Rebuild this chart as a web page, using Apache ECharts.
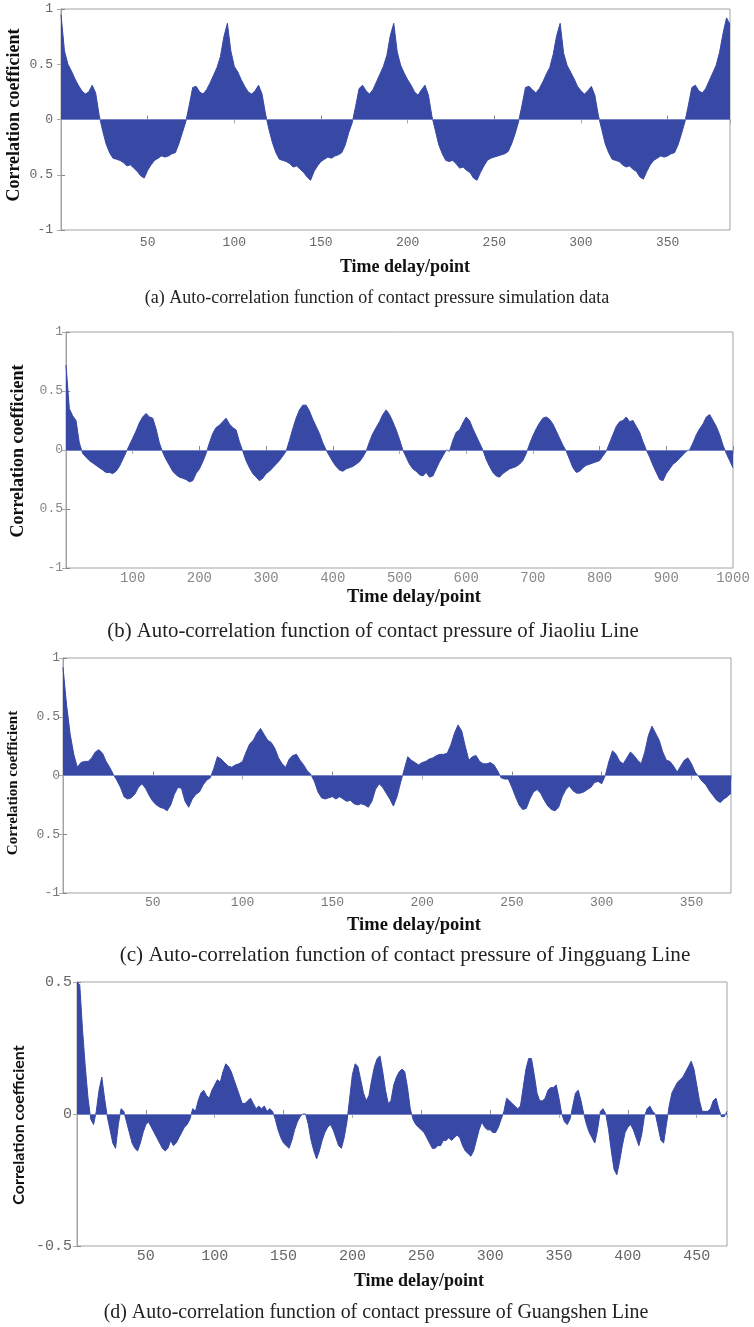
<!DOCTYPE html>
<html>
<head>
<meta charset="utf-8">
<script src="https://cdn.jsdelivr.net/npm/echarts@6/dist/echarts.min.js"></script>
<style>
html,body{margin:0;padding:0;background:#fff;}
#chart{width:754px;height:1327px;}
</style>
</head>
<body>
<div id="chart"></div>
<script>
// ---------------- DATA ----------------
// (a) simulation data, lag step 2, lags 0..386
const lagStepA = 2;
const valuesA = [
 0.95,0.62,0.50,0.44,0.37,0.31,0.26,0.23,0.25,0.31,0.24,0.04,
 -0.10,-0.22,-0.30,-0.35,-0.36,-0.37,-0.39,-0.42,-0.41,-0.44,-0.47,-0.51,
 -0.53,-0.46,-0.41,-0.37,-0.35,-0.33,-0.34,-0.33,-0.31,-0.30,-0.22,-0.12,
 -0.02,0.13,0.29,0.30,0.25,0.23,0.27,0.33,0.40,0.47,0.57,0.75,
 0.87,0.62,0.48,0.43,0.36,0.30,0.25,0.23,0.26,0.31,0.23,0.05,
 -0.09,-0.21,-0.30,-0.36,-0.37,-0.38,-0.40,-0.43,-0.42,-0.45,-0.48,-0.52,
 -0.55,-0.47,-0.42,-0.38,-0.36,-0.34,-0.35,-0.33,-0.32,-0.30,-0.23,-0.12,
 -0.03,0.12,0.28,0.31,0.26,0.23,0.27,0.34,0.41,0.48,0.58,0.76,
 0.87,0.61,0.49,0.42,0.36,0.31,0.25,0.22,0.27,0.31,0.22,0.03,
 -0.10,-0.23,-0.31,-0.37,-0.38,-0.37,-0.40,-0.44,-0.43,-0.46,-0.48,-0.53,
 -0.55,-0.48,-0.42,-0.37,-0.35,-0.34,-0.33,-0.32,-0.31,-0.29,-0.22,-0.13,
 -0.02,0.13,0.29,0.30,0.27,0.24,0.28,0.34,0.41,0.47,0.59,0.76,
 0.87,0.60,0.49,0.43,0.37,0.30,0.26,0.23,0.26,0.30,0.22,0.04,
 -0.09,-0.22,-0.30,-0.36,-0.37,-0.38,-0.41,-0.43,-0.42,-0.45,-0.47,-0.52,
 -0.54,-0.47,-0.41,-0.37,-0.35,-0.33,-0.34,-0.33,-0.31,-0.30,-0.23,-0.13,
 -0.02,0.13,0.29,0.31,0.26,0.24,0.28,0.35,0.42,0.49,0.61,0.78,
 0.92,0.86
];

// (b) Jiaoliu Line, lag step 5, lags 0..1000
const lagStepB = 5;
const valuesB = [
 0.72,0.35,0.29,0.25,0.06,-0.03,-0.06,-0.09,-0.11,-0.13,
 -0.15,-0.17,-0.19,-0.19,-0.20,-0.18,-0.14,-0.08,-0.02,0.04,
 0.10,0.16,0.23,0.28,0.31,0.28,0.27,0.18,0.06,-0.02,
 -0.08,-0.13,-0.18,-0.21,-0.23,-0.24,-0.25,-0.27,-0.26,-0.20,
 -0.16,-0.10,-0.03,0.06,0.14,0.19,0.21,0.24,0.27,0.22,
 0.19,0.17,0.07,-0.01,-0.09,-0.15,-0.20,-0.23,-0.26,-0.24,
 -0.20,-0.18,-0.15,-0.12,-0.09,-0.05,-0.01,0.08,0.18,0.27,
 0.34,0.38,0.38,0.33,0.26,0.20,0.14,0.06,0.00,-0.05,
 -0.10,-0.14,-0.17,-0.18,-0.16,-0.15,-0.14,-0.12,-0.10,-0.06,
 -0.01,0.07,0.14,0.19,0.24,0.30,0.34,0.30,0.24,0.17,
 0.09,0.00,-0.06,-0.12,-0.16,-0.18,-0.21,-0.22,-0.19,-0.23,
 -0.22,-0.16,-0.10,-0.05,0.00,-0.01,0.08,0.15,0.17,0.23,
 0.28,0.25,0.18,0.12,0.06,0.00,-0.08,-0.14,-0.19,-0.22,
 -0.23,-0.20,-0.18,-0.16,-0.15,-0.14,-0.12,-0.09,-0.03,0.05,
 0.12,0.18,0.23,0.27,0.28,0.26,0.22,0.16,0.10,0.04,
 -0.01,-0.08,-0.15,-0.19,-0.18,-0.15,-0.13,-0.12,-0.11,-0.10,
 -0.09,-0.05,-0.01,0.06,0.13,0.20,0.24,0.25,0.28,0.24,
 0.25,0.20,0.15,0.07,0.00,-0.06,-0.13,-0.19,-0.25,-0.26,
 -0.20,-0.16,-0.12,-0.10,-0.07,-0.04,-0.01,0.00,0.06,0.13,
 0.18,0.22,0.28,0.30,0.25,0.20,0.13,0.04,-0.03,-0.09,
 -0.15
];

// (c) Jingguang Line, lag step 2, lags 0..372
const lagStepC = 2;
const valuesC = [
 0.92,0.60,0.35,0.18,0.07,0.11,0.12,0.12,0.15,0.20,
 0.22,0.19,0.12,0.07,0.01,-0.04,-0.10,-0.18,-0.20,-0.19,
 -0.16,-0.10,-0.07,-0.11,-0.17,-0.22,-0.25,-0.27,-0.28,-0.30,
 -0.25,-0.16,-0.10,-0.11,-0.22,-0.27,-0.20,-0.16,-0.14,-0.08,
 -0.04,-0.02,0.06,0.16,0.14,0.11,0.08,0.07,0.09,0.10,
 0.12,0.20,0.27,0.30,0.36,0.40,0.35,0.30,0.28,0.23,
 0.15,0.10,0.07,0.14,0.17,0.18,0.13,0.09,0.04,0.01,
 -0.05,-0.14,-0.19,-0.20,-0.19,-0.18,-0.20,-0.18,-0.20,-0.22,
 -0.21,-0.24,-0.25,-0.24,-0.25,-0.27,-0.22,-0.12,-0.07,-0.10,
 -0.15,-0.20,-0.26,-0.18,-0.06,0.05,0.16,0.13,0.11,0.09,
 0.11,0.12,0.14,0.15,0.17,0.18,0.18,0.19,0.26,0.36,
 0.43,0.38,0.25,0.13,0.16,0.17,0.12,0.10,0.10,0.11,
 0.09,0.04,-0.02,-0.03,-0.03,-0.10,-0.18,-0.25,-0.29,-0.28,
 -0.20,-0.14,-0.12,-0.15,-0.21,-0.26,-0.29,-0.30,-0.27,-0.18,
 -0.12,-0.09,-0.13,-0.15,-0.15,-0.14,-0.12,-0.10,-0.06,-0.05,
 -0.07,0.00,0.12,0.21,0.18,0.12,0.10,0.15,0.20,0.17,
 0.13,0.10,0.20,0.34,0.42,0.36,0.30,0.20,0.13,0.12,
 0.08,0.03,0.08,0.13,0.15,0.10,0.03,-0.01,-0.05,-0.08,
 -0.13,-0.17,-0.21,-0.23,-0.20,-0.18,-0.15
];

// (d) Guangshen Line, lag step 2, lags 0..472
const lagStepD = 2;
const valuesD = [
 0.50,0.49,0.32,0.18,0.06,-0.02,-0.04,0.01,0.09,0.14,
 0.06,-0.01,-0.06,-0.11,-0.13,-0.04,0.02,0.01,-0.03,-0.07,
 -0.11,-0.13,-0.14,-0.11,-0.07,-0.04,-0.03,-0.05,-0.07,-0.09,
 -0.11,-0.13,-0.14,-0.13,-0.10,-0.12,-0.11,-0.09,-0.07,-0.05,
 -0.04,-0.02,0.02,0.01,0.05,0.08,0.09,0.07,0.06,0.09,
 0.11,0.13,0.12,0.16,0.19,0.18,0.16,0.13,0.10,0.07,
 0.04,0.04,0.05,0.06,0.04,0.02,0.03,0.02,0.03,0.01,
 0.02,0.01,-0.02,-0.06,-0.09,-0.11,-0.12,-0.13,-0.10,-0.06,
 -0.03,-0.01,0.00,0.00,-0.04,-0.10,-0.14,-0.17,-0.14,-0.10,
 -0.07,-0.05,-0.04,-0.06,-0.09,-0.12,-0.13,-0.09,-0.03,0.06,
 0.15,0.19,0.18,0.13,0.08,0.05,0.07,0.13,0.18,0.21,
 0.22,0.16,0.09,0.04,0.05,0.11,0.14,0.16,0.17,0.16,
 0.10,0.02,-0.02,-0.04,-0.05,-0.06,-0.07,-0.09,-0.11,-0.13,
 -0.13,-0.12,-0.12,-0.10,-0.10,-0.09,-0.10,-0.09,-0.08,-0.09,
 -0.12,-0.14,-0.15,-0.16,-0.14,-0.10,-0.06,-0.03,-0.05,-0.06,
 -0.06,-0.07,-0.07,-0.05,-0.02,0.01,0.06,0.05,0.04,0.03,
 0.02,0.03,0.10,0.17,0.21,0.21,0.15,0.08,0.05,0.05,
 0.06,0.09,0.10,0.10,0.11,0.06,0.00,-0.03,-0.04,-0.02,
 0.03,0.08,0.09,0.05,0.00,-0.04,-0.07,-0.09,-0.11,-0.06,
 0.01,0.02,0.00,-0.06,-0.14,-0.21,-0.23,-0.18,-0.12,-0.07,
 -0.05,-0.04,-0.06,-0.09,-0.12,-0.08,-0.01,0.02,0.03,0.01,
 0.00,-0.05,-0.10,-0.11,-0.04,0.03,0.08,0.10,0.12,0.13,
 0.14,0.16,0.18,0.20,0.17,0.11,0.05,0.01,0.01,0.01,
 0.02,0.05,0.06,0.02,-0.01,-0.01,0.01
];

// axis ranges / tick labels
const xMaxes = [386, 1000, 372, 472];
const xIntervals = [50, 100, 50, 50];
const yRanges = [[-1, 1], [-1, 1], [-1, 1], [-0.5, 0.5]];
const yTickInterval = 0.5;
const xTitle = 'Time delay/point';
const yTitle = 'Correlation coefficient';
const captions = [
 '(a) Auto-correlation function of contact pressure simulation data',
 '(b) Auto-correlation function of contact pressure of Jiaoliu Line',
 '(c) Auto-correlation function of contact pressure of Jingguang Line',
 '(d) Auto-correlation function of contact pressure of Guangshen Line'
];

// ---------------- LAYOUT ----------------
const BLUE = '#3848a5';
const FRAME = '#a3a3a3';
const panels = [
 {vals: valuesA, step: lagStepA, grid: {left: 61, top: 9, width: 669, height: 221},
  showMaxX: false, xLabelSize: 13, yLabelSize: 13, xMargin: 6, yMargin: 8, labelColor: '#666',
  negHalf: '0.5', yt: {x: 14, y: 115, size: 18, font: '"Liberation Serif", serif'},
  xt: {x: 405, y: 267, size: 18}, cap: {x: 377, y: 298, size: 18}},
 {vals: valuesB, step: lagStepB, grid: {left: 66, top: 332, width: 667, height: 236},
  showMaxX: true, xLabelSize: 14, yLabelSize: 13, xMargin: 3, yMargin: 3, labelColor: '#888',
  negHalf: '0.5', yt: {x: 18, y: 451, size: 18, font: '"Liberation Serif", serif'},
  xt: {x: 414, y: 597, size: 18.5}, cap: {x: 373, y: 632, size: 20.8}},
 {vals: valuesC, step: lagStepC, grid: {left: 63, top: 658, width: 668, height: 235},
  showMaxX: false, xLabelSize: 13, yLabelSize: 13, xMargin: 3, yMargin: 3, labelColor: '#777',
  negHalf: '0.5', yt: {x: 13, y: 783, size: 15, font: '"Liberation Serif", serif'},
  xt: {x: 414, y: 925, size: 18.5}, cap: {x: 405, y: 955, size: 21.2}},
 {vals: valuesD, step: lagStepD, grid: {left: 77, top: 982, width: 650, height: 264},
  showMaxX: false, xLabelSize: 15, yLabelSize: 15, xMargin: 3, yMargin: 5, labelColor: '#666',
  negHalf: null, yt: {x: 19, y: 1125, size: 16, font: 'Lato, "Liberation Sans", sans-serif'},
  xt: {x: 419, y: 1281, size: 18}, cap: {x: 376, y: 1313, size: 19.9}}
];

const grids = [], xAxes = [], yAxes = [], series = [], graphics = [];
panels.forEach((p, i) => {
  grids.push(Object.assign({show: true, borderColor: FRAME, borderWidth: 1, containLabel: false}, p.grid));
  const labelStyle = {fontFamily: '"Liberation Mono", "DejaVu Sans Mono", monospace', color: p.labelColor};
  // bottom x axis
  xAxes.push({type: 'value', gridIndex: i, min: 0, max: xMaxes[i], interval: xIntervals[i],
    axisLine: {show: true, lineStyle: {color: FRAME}}, splitLine: {show: false},
    axisTick: {show: true, inside: true, length: 4, lineStyle: {color: '#888'}},
    axisLabel: Object.assign({fontSize: p.xLabelSize, margin: p.xMargin, showMinLabel: false,
      showMaxLabel: p.showMaxX, formatter: v => String(v)}, labelStyle)});
  // top mirror
  xAxes.push({type: 'value', gridIndex: i, position: 'top', min: 0, max: xMaxes[i], interval: xIntervals[i],
    axisLine: {show: true, lineStyle: {color: FRAME}}, splitLine: {show: false},
    axisTick: {show: true, inside: true, length: 4, lineStyle: {color: '#aaa'}}, axisLabel: {show: false}});
  const yr = yRanges[i];
  yAxes.push({type: 'value', gridIndex: i, min: yr[0], max: yr[1], interval: yTickInterval,
    axisLine: {show: true, lineStyle: {color: FRAME}}, splitLine: {show: false},
    axisTick: {show: true, inside: true, length: 4, lineStyle: {color: '#888'}},
    axisLabel: Object.assign({fontSize: p.yLabelSize, margin: p.yMargin,
      formatter: v => (p.negHalf && v === -0.5) ? p.negHalf : String(v)}, labelStyle)});
  yAxes.push({type: 'value', gridIndex: i, position: 'right', min: yr[0], max: yr[1], interval: yTickInterval,
    axisLine: {show: true, lineStyle: {color: FRAME}}, splitLine: {show: false},
    axisTick: {show: true, inside: true, length: 4, lineStyle: {color: '#aaa'}}, axisLabel: {show: false}});
  series.push({type: 'line', xAxisIndex: i * 2, yAxisIndex: i * 2, showSymbol: false, symbol: 'none',
    silent: true, animation: false,
    data: p.vals.map((v, k) => [k * p.step, v]),
    lineStyle: {color: BLUE, width: 1}, areaStyle: {color: BLUE, opacity: 1, origin: 0},
    markLine: {silent: true, symbol: 'none', label: {show: false}, animation: false,
      lineStyle: {color: '#7683c6', width: 1, type: 'solid'}, data: [{yAxis: 0}]}});
  graphics.push({type: 'text', x: p.yt.x, y: p.yt.y, rotation: Math.PI / 2, silent: true,
    style: {text: yTitle, textAlign: 'center', textVerticalAlign: 'middle', fill: '#111',
      font: 'bold ' + p.yt.size + 'px ' + p.yt.font}});
  graphics.push({type: 'text', x: p.xt.x, y: p.xt.y, silent: true,
    style: {text: xTitle, textAlign: 'center', textVerticalAlign: 'middle', fill: '#111',
      font: 'bold ' + p.xt.size + 'px "Liberation Serif", serif'}});
  graphics.push({type: 'text', x: p.cap.x, y: p.cap.y, silent: true,
    style: {text: captions[i], textAlign: 'center', textVerticalAlign: 'middle', fill: '#222',
      font: p.cap.size + 'px "Liberation Serif", serif'}});
});

const chart = echarts.init(document.getElementById('chart'), null, {renderer: 'canvas'});
chart.setOption({
  animation: false,
  backgroundColor: '#fff',
  grid: grids, xAxis: xAxes, yAxis: yAxes, series: series, graphic: graphics
});
</script>
</body>
</html>
